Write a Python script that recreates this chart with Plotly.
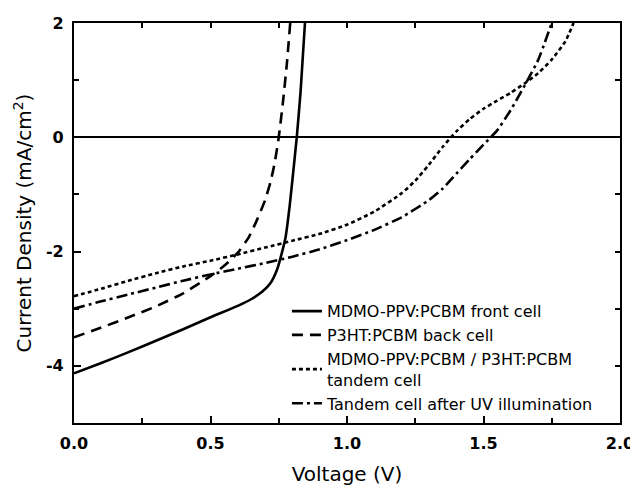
import plotly.graph_objects as go

# Data
front_v = [0, 0.1, 0.2, 0.3, 0.4, 0.5, 0.6, 0.65, 0.69, 0.72, 0.745, 0.76, 0.775, 0.79, 0.80, 0.816, 0.83, 0.846]
front_j = [-4.13, -3.95, -3.76, -3.56, -3.36, -3.15, -2.95, -2.83, -2.7, -2.55, -2.3, -2.05, -1.75, -1.2, -0.75, 0.0, 0.8, 2.0]

back_v = [0, 0.1, 0.2, 0.3, 0.4, 0.5, 0.55, 0.6, 0.64, 0.67, 0.70, 0.72, 0.735, 0.75, 0.765, 0.78, 0.792]
back_j = [-3.5, -3.33, -3.15, -2.96, -2.73, -2.43, -2.25, -2.02, -1.75, -1.45, -1.1, -0.78, -0.45, 0.0, 0.6, 1.3, 2.0]

tandem_v = [0, 0.1, 0.2, 0.3, 0.4, 0.5, 0.6, 0.7, 0.8, 0.9, 1.0, 1.1, 1.2, 1.25, 1.3, 1.35, 1.4, 1.45, 1.5, 1.55, 1.6, 1.65, 1.7, 1.75, 1.8, 1.83]
tandem_j = [-2.78, -2.65, -2.51, -2.38, -2.26, -2.16, -2.05, -1.93, -1.81, -1.69, -1.53, -1.3, -0.98, -0.76, -0.48, -0.17, 0.1, 0.32, 0.5, 0.64, 0.78, 0.94, 1.12, 1.36, 1.68, 2.0]

uv_v = [0, 0.1, 0.2, 0.3, 0.4, 0.5, 0.6, 0.7, 0.8, 0.9, 1.0, 1.1, 1.2, 1.3, 1.35, 1.4, 1.45, 1.5, 1.55, 1.6, 1.65, 1.7, 1.75]
uv_j = [-3.0, -2.87, -2.75, -2.63, -2.51, -2.4, -2.3, -2.2, -2.09, -1.96, -1.8, -1.62, -1.4, -1.1, -0.9, -0.64, -0.38, -0.13, 0.12, 0.48, 0.9, 1.35, 2.0]

names = [
    "MDMO-PPV:PCBM front cell",
    "P3HT:PCBM back cell",
    "MDMO-PPV:PCBM / P3HT:PCBM<br>tandem cell",
    "Tandem cell after UV illumination",
]

x_ticks = [0.0, 0.5, 1.0, 1.5, 2.0]
x_labels = ["0.0", "0.5", "1.0", "1.5", "2.0"]
y_ticks = [-4, -2, 0, 2]
y_labels = ["-4", "-2", "0", "2"]

FONT = "DejaVu Sans, Liberation Sans, Arial, sans-serif"

fig = go.Figure()
styles = ["solid", "11px,7px", "4px,3px", "11px,4px,3px,4px"]
series = [(front_v, front_j), (back_v, back_j), (tandem_v, tandem_j), (uv_v, uv_j)]
for (vx, jy), nm, ds in zip(series, names, styles):
    fig.add_trace(go.Scatter(x=vx, y=jy, mode="lines", name=nm,
                             line=dict(color="black", width=2.6, dash=ds, shape="spline", smoothing=0.5)))

# empty trace so the mirrored top/right tick axes are drawn
fig.add_trace(go.Scatter(x=[], y=[], xaxis="x2", yaxis="y2", showlegend=False, hoverinfo="skip"))

axis_common = dict(
    showline=True, linecolor="black", linewidth=2.2, mirror=True,
    ticks="inside", ticklen=7, tickwidth=2.2, tickcolor="black",
    showgrid=False, automargin=False, ticklabelstandoff=5,
    tickfont=dict(family=FONT, size=16, color="black", weight="bold"),
    title_font=dict(family=FONT, size=20, color="black"),
)

fig.update_layout(
    xaxis=dict(range=[0, 2], tickvals=x_ticks, ticktext=x_labels,
               minor=dict(dtick=0.25, ticks="inside", ticklen=5, tickwidth=2, tickcolor="black"),
               title_text="Voltage (V)", title_standoff=16, zeroline=False, **axis_common),
    yaxis=dict(range=[-5, 2], tickvals=y_ticks, ticktext=y_labels,
               minor=dict(dtick=1, ticks="inside", ticklen=5, tickwidth=2, tickcolor="black"),
               title_text="Current Density (mA/cm<sup>2</sup>)", title_standoff=9,
               zeroline=True, zerolinecolor="black", zerolinewidth=2.2, **axis_common),
    xaxis2=dict(overlaying="x", side="top", range=[0, 2], dtick=0.25, tick0=0,
                ticks="inside", ticklen=5, tickwidth=2, tickcolor="black",
                showticklabels=False, showline=False, showgrid=False, zeroline=False),
    yaxis2=dict(overlaying="y", side="right", range=[-5, 2], dtick=1, tick0=0,
                ticks="inside", ticklen=5, tickwidth=2, tickcolor="black",
                showticklabels=False, showline=False, showgrid=False, zeroline=False),
    width=630, height=478,
    margin=dict(l=66, r=18, t=15, b=63),
    plot_bgcolor="white", paper_bgcolor="white",
    legend=dict(x=0.39, y=0.322, xanchor="left", yanchor="top",
                bgcolor="rgba(0,0,0,0)", borderwidth=0,
                font=dict(family=FONT, size=16, color="black"),
                tracegroupgap=0, itemwidth=30),
    showlegend=True,
)

fig.write_html("out.html")
